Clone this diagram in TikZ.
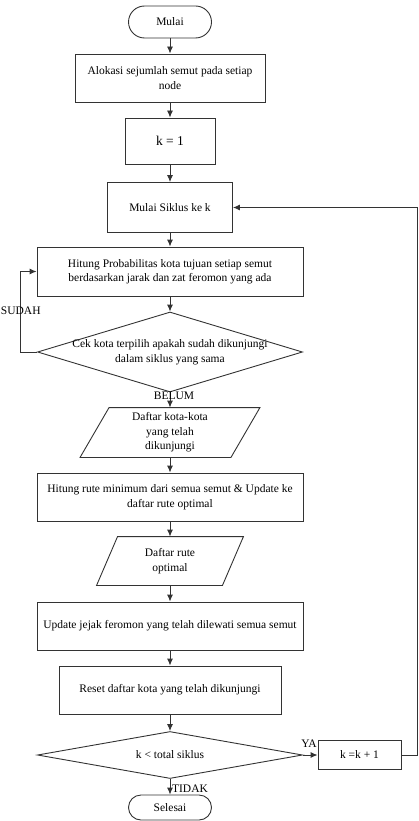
\documentclass[tikz,border=0pt]{standalone}
\usepackage{fontspec}
\setmainfont{Liberation Serif}
\usetikzlibrary{arrows.meta,shapes.geometric}
\begin{document}
\begin{tikzpicture}[x=1pt,y=-1pt,
  line width=0.9pt,
  every node/.style={font=\fontsize{11.5}{14.5}\selectfont, inner sep=0pt, align=center, text=black},
  proc/.style={draw=black!80, rectangle},
  term/.style={draw=black!80, rectangle},
  dec/.style={draw=black!80, diamond},
  arr/.style={draw=black!80, -{Latex[length=7pt,width=6pt]}},
  lin/.style={draw=black!80}
]
\useasboundingbox (0,0) rectangle (419,821);

\node[term, minimum width=83pt, minimum height=32pt, rounded corners=16pt] (mulai) at (170,22) {Mulai};
\node[proc, minimum width=190pt, minimum height=48pt] (alok) at (170,78) {Alokasi sejumlah semut pada setiap\\node};
\node[proc, minimum width=90pt, minimum height=46pt, font=\fontsize{13.5}{16}\selectfont] (k1) at (170,141) {k = 1};
\node[proc, minimum width=125pt, minimum height=50pt] (siklus) at (170,207.5) {Mulai Siklus ke k};
\node[proc, minimum width=266pt, minimum height=49pt] (hitung) at (170,271.5) {Hitung Probabilitas kota tujuan setiap semut\\berdasarkan jarak dan zat feromon yang ada};
\node[dec, minimum width=265pt, minimum height=80pt] (cek) at (170,352) {};
\node (cektxt) at (cek.center) {Cek kota terpilih apakah sudah dikunjungi\\dalam siklus yang sama};

\node[minimum width=150pt, minimum height=49pt] (dk) at (170,432.5) {Daftar kota-kota\\yang telah\\dikunjungi};
\draw[lin] ([xshift=14.5pt]dk.north west) -- ([xshift=14.5pt]dk.north east) -- ([xshift=-14.5pt]dk.south east) -- ([xshift=-14.5pt]dk.south west) -- cycle;

\node[proc, minimum width=266pt, minimum height=48pt] (rute) at (170,497) {Hitung rute minimum dari semua semut \& Update ke\\daftar rute optimal};

\node[minimum width=125pt, minimum height=48pt] (dr) at (170,561) {Daftar rute\\optimal};
\draw[lin] ([xshift=10.5pt]dr.north west) -- ([xshift=10.5pt]dr.north east) -- ([xshift=-10.5pt]dr.south east) -- ([xshift=-10.5pt]dr.south west) -- cycle;

\node[proc, minimum width=266pt, minimum height=48pt] (upd) at (170,626) {Update jejak feromon yang telah dilewati semua semut};
\node[proc, minimum width=222pt, minimum height=48pt] (reset) at (170,690) {Reset daftar kota yang telah dikunjungi};
\node[dec, minimum width=265pt, minimum height=47pt] (kd) at (170,755) {};
\node (kdtxt) at (kd.center) {k < total siklus};
\node[proc, minimum width=83pt, minimum height=29pt] (kk) at (359.5,755) {k =k + 1};
\node[term, minimum width=83pt, minimum height=25pt, rounded corners=12.5pt] (sel) at (170,807.5) {Selesai};

\draw[arr] (mulai) -- (alok);
\draw[arr] (alok) -- (k1);
\draw[arr] (k1) -- (siklus);
\draw[arr] (siklus) -- (hitung);
\draw[arr] (hitung) -- (cek.north);
\draw[arr] (cek.south) -- (dk.north);
\draw[arr] (dk) -- (rute);
\draw[arr] (rute) -- (dr);
\draw[arr] (dr) -- (upd);
\draw[arr] (upd) -- (reset);
\draw[arr] (reset) -- (kd.north);
\draw[arr] (kd.south) -- (sel.north);
\draw[arr] (kd.east) -- (kk.west);
\draw[arr] (cek.west) -- ++(-17,0) |- (hitung.west);
\draw[arr] (kk.east) -- ++(16,0) |- (siklus.east);

\node[anchor=west] (sudah) at (0.5,311) {SUDAH};
\node (belum) at (174,396) {BELUM};
\node (ya) at (309,744) {YA};
\node (tidak) at (190,789) {TIDAK};
\end{tikzpicture}
\end{document}
